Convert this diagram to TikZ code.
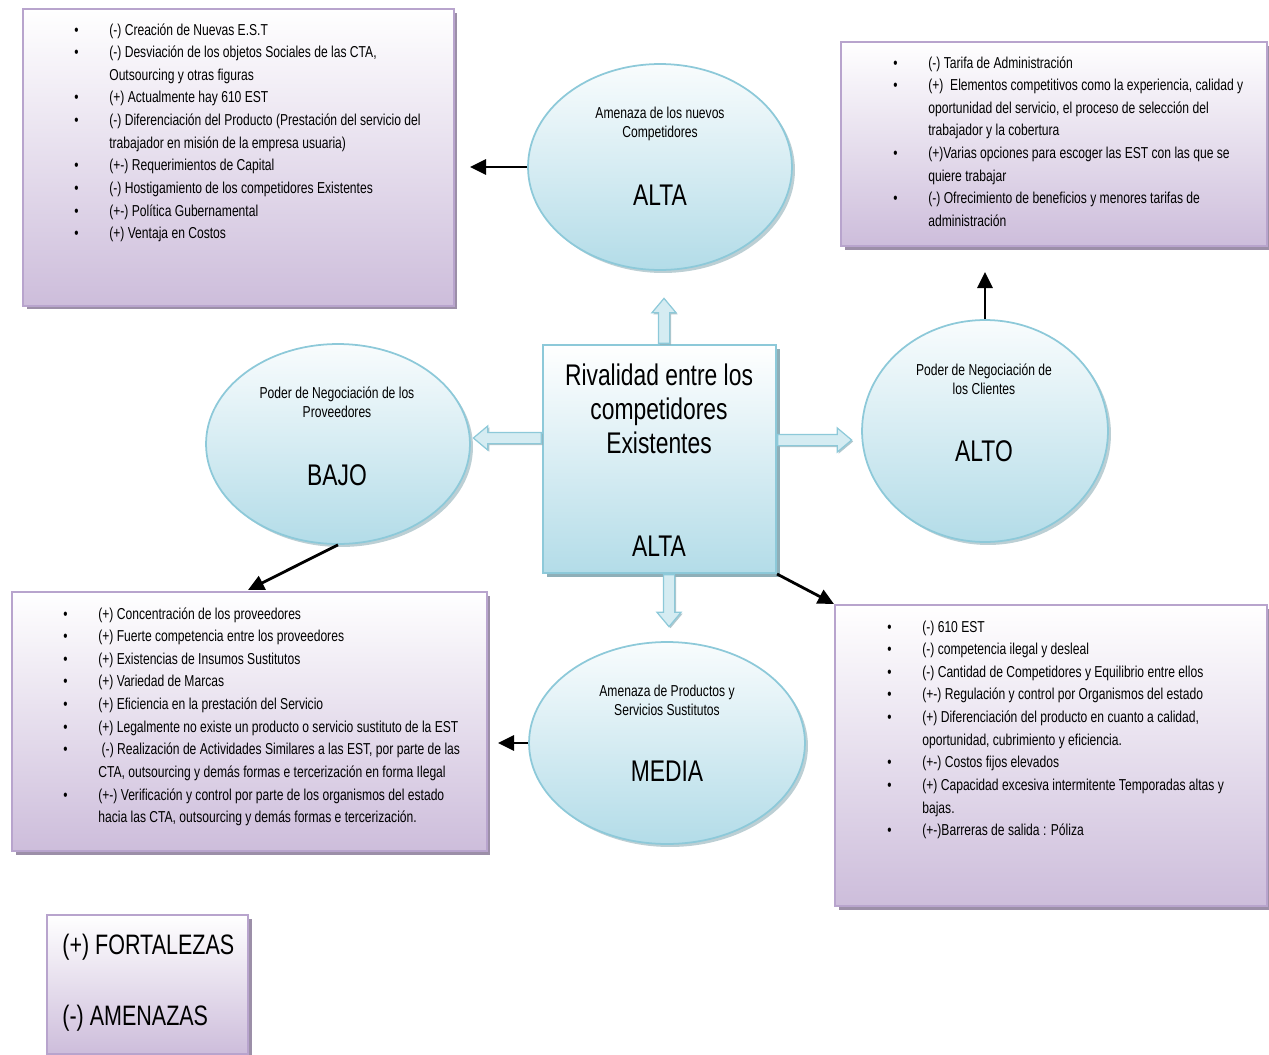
\documentclass[tikz,border=0pt]{standalone}
\usepackage{fontspec}
\setmainfont{Liberation Sans}[FakeStretch=0.765]
\usepackage{tikz}
\usetikzlibrary{positioning, arrows.meta, shapes.geometric, shapes.arrows, shadows}

\definecolor{lila}{HTML}{B8A4CD}
\definecolor{lilafondo}{HTML}{CDBDDB}
\definecolor{lilasombra}{HTML}{9C8FA8}
\definecolor{cian}{HTML}{8DC9D9}
\definecolor{cianfondo}{HTML}{B3DCE8}
\definecolor{ciansombra}{HTML}{8FAFB8}

\tikzset{
  caja/.style={draw=lila, line width=1.2pt, top color=white, bottom color=lilafondo,
    anchor=north west, inner sep=0pt,
    drop shadow={shadow xshift=0.07cm, shadow yshift=-0.07cm, fill=lilasombra, opacity=1}},
  globo/.style={ellipse, draw=cian, line width=1pt, top color=white!92!cianfondo, bottom color=cianfondo,
    inner sep=0pt,
    drop shadow={shadow xshift=0.06cm, shadow yshift=-0.06cm, fill=ciansombra, opacity=0.6}},
  centro/.style={draw=cian, line width=1.2pt, top color=white, bottom color=cianfondo, inner sep=0pt,
    drop shadow={shadow xshift=0.08cm, shadow yshift=-0.08cm, fill=ciansombra, opacity=1}},
  flechota/.style={single arrow, draw=cian, line width=0.7pt, fill=cianfondo!55!white,
    inner xsep=0pt, inner ysep=0.1cm, single arrow head extend=0.13cm, single arrow tip angle=80,
    anchor=tail,
    drop shadow={shadow xshift=0.03cm, shadow yshift=-0.03cm, fill=ciansombra, opacity=0.7}},
  flecha/.style={line width=1.6pt, -{Triangle[length=0.32cm,width=0.3cm]}},
  lista/.style={anchor=base west, inner sep=0pt, font=\fontsize{9}{12.9}\selectfont},
  titulo/.style={align=center, inner sep=0pt, font=\fontsize{9}{10.8}\selectfont},
  grande/.style={inner sep=0pt, font=\fontsize{17}{20}\selectfont},
}

\begin{document}
\begin{tikzpicture}[x=0.02cm, y=-0.02cm]
\useasboundingbox (0,0) rectangle (1269,1055);

% cajas de texto
\node[caja, minimum width=8.62cm, minimum height=5.94cm] (nuevosL) at (22,8) {};
\node[caja, minimum width=8.52cm, minimum height=4.08cm] (clientesL) at (840,41) {};
\node[caja, minimum width=9.5cm, minimum height=5.18cm] (provL) at (11,591) {};
\node[caja, minimum width=8.64cm, minimum height=6.02cm] (rivalL) at (834,604) {};
\node[caja, minimum width=4.02cm, minimum height=2.78cm] (leyenda) at (46,914) {};

% fuerzas
\node[globo, minimum width=5.28cm, minimum height=4.12cm] (nuevos) at (660,167) {};
\node[globo, minimum width=5.28cm, minimum height=4.0cm] (prov) at (338,444) {};
\node[globo, minimum width=4.92cm, minimum height=4.44cm] (clientes) at (985,431) {};
\node[globo, minimum width=5.52cm, minimum height=4.04cm] (sust) at (667,743) {};
\node[centro, minimum width=4.66cm, minimum height=4.56cm] (rival) at (659.5,459) {};

% flechas gruesas desde el centro
\node[flechota, minimum height=0.9cm, rotate=90] (fArriba) at (rival.north -| 664,0) {};
\node[flechota, minimum height=1.36cm, rotate=180] (fIzq) at (rival.west |- 0,438) {};
\node[flechota, minimum height=1.48cm] (fDer) at (rival.east |- 0,440) {};
\node[flechota, minimum height=1.04cm, rotate=-90] (fAbajo) at (rival.south -| 669,0) {};

% flechas negras
\coordinate (pNuevos) at (470,167);
\coordinate (pClientes) at (985,272);
\coordinate (pProv) at (248,590);
\coordinate (pRival) at (834,604);
\coordinate (pSust) at (498,743);
\draw[flecha] (nuevos.west) -- (pNuevos);
\draw[flecha] (clientes.north) -- (pClientes);
\draw[flecha] (prov.south) -- (pProv);
\draw[flecha] (rival.south east) -- (pRival);
\draw[flecha] (sust.west) -- (pSust);

% textos de las fuerzas
\node[titulo] (nuevosT) at (660,124) {Amenaza de los nuevos\\Competidores};
\node[grande] (nuevosG) at (660,195) {ALTA};
\node[titulo] (provT) at (337,402) {Poder de Negociación de los\\Proveedores};
\node[grande] (provG) at (337,475) {BAJO};
\node[titulo] (clientesT) at (984,379) {Poder de Negociación de\\los Clientes};
\node[grande] (clientesG) at (984,451) {ALTO};
\node[titulo] (sustT) at (667,700) {Amenaza de Productos y\\Servicios Sustitutos};
\node[grande] (sustG) at (667,771) {MEDIA};
\node[align=center, inner sep=0pt, font=\fontsize{17}{19.3}\selectfont] (rivalT) at (659,409)
  {Rivalidad entre los\\competidores\\Existentes};
\node[grande] (rivalG) at (659,546) {ALTA};

% listas
\node[lista] (nuevosX) at (74,35) {\begin{tabular}[t]{@{}p{0.7cm}@{}l@{}}
\textbullet & (-) Creación de Nuevas E.S.T\\
\textbullet & (-) Desviación de los objetos Sociales de las CTA,\\
 & Outsourcing y otras figuras\\
\textbullet & (+) Actualmente hay 610 EST\\
\textbullet & (-) Diferenciación del Producto (Prestación del servicio del\\
 & trabajador en misión de la empresa usuaria)\\
\textbullet & (+-) Requerimientos de Capital\\
\textbullet & (-) Hostigamiento de los competidores Existentes\\
\textbullet & (+-) Política Gubernamental\\
\textbullet & (+) Ventaja en Costos
\end{tabular}};

\node[lista] (clientesX) at (893,68) {\begin{tabular}[t]{@{}p{0.7cm}@{}l@{}}
\textbullet & (-) Tarifa de Administración\\
\textbullet & (+)\ \ Elementos competitivos como la experiencia, calidad y\\
 & oportunidad del servicio, el proceso de selección del\\
 & trabajador y la cobertura\\
\textbullet & (+)Varias opciones para escoger las EST con las que se\\
 & quiere trabajar\\
\textbullet & (-) Ofrecimiento de beneficios y menores tarifas de\\
 & administración
\end{tabular}};

\node[lista] (provX) at (63,619) {\begin{tabular}[t]{@{}p{0.7cm}@{}l@{}}
\textbullet & (+) Concentración de los proveedores\\
\textbullet & (+) Fuerte competencia entre los proveedores\\
\textbullet & (+) Existencias de Insumos Sustitutos\\
\textbullet & (+) Variedad de Marcas\\
\textbullet & (+) Eficiencia en la prestación del Servicio\\
\textbullet & (+) Legalmente no existe un producto o servicio sustituto de la EST\\
\textbullet & \ (-) Realización de Actividades Similares a las EST, por parte de las\\
 & CTA, outsourcing y demás formas e tercerización en forma Ilegal\\
\textbullet & (+-) Verificación y control por parte de los organismos del estado\\
 & hacia las CTA, outsourcing y demás formas e tercerización.
\end{tabular}};

\node[lista] (rivalX) at (887,632) {\begin{tabular}[t]{@{}p{0.7cm}@{}l@{}}
\textbullet & (-) 610 EST\\
\textbullet & (-) competencia ilegal y desleal\\
\textbullet & (-) Cantidad de Competidores y Equilibrio entre ellos\\
\textbullet & (+-) Regulación y control por Organismos del estado\\
\textbullet & (+) Diferenciación del producto en cuanto a calidad,\\
 & oportunidad, cubrimiento y eficiencia.\\
\textbullet & (+-) Costos fijos elevados\\
\textbullet & (+) Capacidad excesiva intermitente Temporadas altas y\\
 & bajas.\\
\textbullet & (+-)Barreras de salida : Póliza
\end{tabular}};

% leyenda
\node[anchor=west, inner sep=0pt, font=\fontsize{16}{19}\selectfont] (fortalezas) at (62,947) {(+) FORTALEZAS};
\node[anchor=west, inner sep=0pt, font=\fontsize{16}{19}\selectfont] (amenazas) at (62,1018) {(-) AMENAZAS};
\end{tikzpicture}
\end{document}
